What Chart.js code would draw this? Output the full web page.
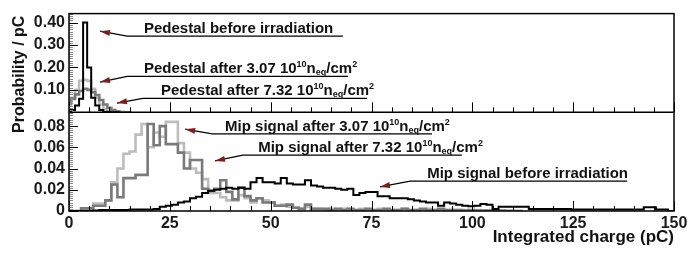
<!DOCTYPE html>
<html>
<head>
<meta charset="utf-8">
<script src="https://cdn.jsdelivr.net/npm/chart.js@4.4.1/dist/chart.umd.min.js"></script>
<style>
  html, body { margin: 0; padding: 0; background: #fff; }
  canvas { display: block; }
</style>
</head>
<body>
<canvas id="chart" width="691" height="254"></canvas>
<script>
// BINNING (pC)
const pedStart = -0.5;   // pedestal bins are centred on whole pC
const pedWidth = 1;
const mipStart = 0;
const mipWidth = 1.5;

// PEDESTAL PAD - probability / pC per bin
const pedBefore = [0, 0.003, 0.01, 0.03, 0.06, 0.40, 0.20, 0.065, 0.03, 0.01, 0.003, 0, 0];
const ped307 = [0.005, 0.03, 0.065, 0.1, 0.14, 0.145, 0.14, 0.105, 0.065, 0.035, 0.015, 0.005, 0.001, 0];
const ped732 = [0.02, 0.04, 0.06, 0.08, 0.095, 0.105, 0.1, 0.09, 0.077, 0.055, 0.035, 0.02, 0.01, 0.004, 0.001, 0];

// MIP PAD - probability / pC per bin
const mipBefore = [
  0, 0, 0, 0, 0, 0.0005, 0.001, 0.001, 0.001, 0.001,
  0.001, 0.0015, 0.0015, 0.0015, 0.0015, 0.002, 0.004, 0.005, 0.006, 0.008,
  0.009, 0.012, 0.0135, 0.017, 0.019, 0.02, 0.021, 0.022, 0.021, 0.022,
  0.021, 0.027, 0.031, 0.027, 0.027, 0.026, 0.031, 0.026, 0.025, 0.025,
  0.029, 0.024, 0.023, 0.022, 0.022, 0.021, 0.02, 0.021, 0.015, 0.017,
  0.018, 0.018, 0.014, 0.014, 0.012, 0.012, 0.012, 0.011, 0.01, 0.009,
  0.008, 0.008, 0.005, 0.008, 0.007, 0.006, 0.005, 0.0045, 0.005, 0.0065,
  0.006, 0.002, 0.004, 0.004, 0.004, 0.004, 0.004, 0.002, 0.002, 0.002,
  0.002, 0.002, 0.002, 0.002, 0.0015, 0.0015, 0.0015, 0.0015, 0.0015, 0.0015,
  0.0015, 0.0015, 0.0015, 0.0015, 0.0015, 0.0015, 0.0035, 0.0035, 0.0015, 0.0015
];
const mip307 = [
  0, 0, 0, 0.002, 0.002, 0.007, 0.007, 0.01, 0.027, 0.04,
  0.054, 0.056, 0.072, 0.082, 0.06, 0.074, 0.07, 0.084, 0.084, 0.064,
  0.055, 0.04, 0.036, 0.03, 0.017, 0.017, 0.013, 0.01, 0.01, 0.015,
  0.012, 0.008, 0.012, 0.01, 0.008, 0.005, 0.006, 0.004, 0.003, 0.002,
  0.004, 0.002, 0.002, 0.001, 0.002, 0.001, 0.002, 0.001, 0.001, 0.002,
  0.001, 0.001, 0.002, 0.001, 0.001, 0.001, 0.002, 0.001, 0.001, 0.001,
  0.002, 0.001, 0.001, 0.001, 0.001, 0.001, 0.001, 0.0005, 0.001, 0.0005,
  0.0005, 0.0005, 0, 0.0005, 0
];
const mip732 = [
  0, 0, 0, 0.0025, 0.0025, 0.005, 0.005, 0.01, 0.025, 0.013,
  0.031, 0.031, 0.034, 0.034, 0.082, 0.062, 0.08, 0.063, 0.063, 0.055,
  0.04, 0.048, 0.048, 0.021, 0.019, 0.021, 0.029, 0.018, 0.011, 0.022,
  0.014, 0.01, 0.012, 0.008, 0.008, 0.005, 0.005, 0.006, 0.003, 0.002,
  0.006, 0.002, 0.002, 0.002, 0.001, 0.002, 0.001, 0.002, 0.001, 0.001,
  0.002, 0.001, 0.001, 0.002, 0.001, 0.001, 0.002, 0.001, 0.001, 0.002,
  0.001, 0.001, 0.002, 0.001, 0.001, 0.001, 0.0005, 0.001, 0.0005, 0.0005,
  0.0005, 0, 0.0005, 0, 0
];

// AXES
const xTicks = [0, 25, 50, 75, 100, 125, 150];
const pedTickLabels = [0.1, 0.2, 0.3, 0.4];
const mipTickLabels = [0, 0.02, 0.04, 0.06, 0.08];

// LABELS WITH ARROWS (tip, elbow and end of underline in data units of the pad)
const notes = [
  { pad: "yTop", text: "Pedestal before irradiation", tip: [7.7, 0.3615], elbow: [14.4, 0.34], end: 67.9, textX: 18.6 },
  { pad: "yTop", text: "Pedestal after 3.07 10^{10}n_{eq}/cm^{2}", tip: [7.7, 0.135], elbow: [14.4, 0.16], end: 69.2, textX: 18.6 },
  { pad: "yTop", text: "Pedestal after 7.32 10^{10}n_{eq}/cm^{2}", tip: [11.9, 0.041], elbow: [18.3, 0.062], end: 73.9, textX: 22.8 },
  { pad: "yBot", text: "Mip signal after 3.07 10^{10}n_{eq}/cm^{2}", tip: [28.8, 0.0771], elbow: [35.5, 0.0726], end: 90.0, textX: 38.7 },
  { pad: "yBot", text: "Mip signal after 7.32 10^{10}n_{eq}/cm^{2}", tip: [36.2, 0.0472], elbow: [43.1, 0.0526], end: 97.4, textX: 46.9 },
  { pad: "yBot", text: "Mip signal before irradiation", tip: [77.1, 0.0227], elbow: [84.6, 0.0281], end: 138.4, textX: 88.8 }
];

const family = "'Liberation Sans', Arial, Helvetica, sans-serif";
Chart.defaults.font.family = family;

function histPoints(values, start, width) {
    const pts = [{ x: start, y: 0 }];
    values.forEach((v, i) => pts.push({ x: start + i * width, y: v }));
    pts.push({ x: start + values.length * width, y: 0 });
    return pts;
}

function hist(values, start, width, axis, color, lw, order) {
    return {
        data: histPoints(values, start, width),
        yAxisID: axis,
        borderColor: color,
        borderWidth: lw,
        stepped: "after",
        pointRadius: 0,
        fill: false,
        order: order
    };
}

// split "a^{b}c_{d}" into pieces
function richParts(str) {
    return str.split(/(\^\{[^}]*\}|_\{[^}]*\})/).filter(s => s).map(s => {
        if (s[0] === "^") return { t: s.slice(2, -1), sup: true };
        if (s[0] === "_") return { t: s.slice(2, -1), sub: true };
        return { t: s };
    });
}

function line(ctx, x1, y1, x2, y2) {
    ctx.beginPath();
    ctx.moveTo(x1, y1);
    ctx.lineTo(x2, y2);
    ctx.stroke();
}

const padDecor = {
    id: "padDecor",
    afterDatasetsDraw(chart) {
        const { ctx, chartArea: a } = chart;
        const x = chart.scales.x;
        const pads = [chart.scales.yTop, chart.scales.yBot];
        ctx.save();

        // x ticks, pointing inwards, on the bottom of each pad
        ctx.lineWidth = 1;
        ctx.strokeStyle = "#000";
        pads.forEach(ys => {
            for (let v = 0; v <= 150; v += 5) {
                const px = Math.round(x.getPixelForValue(v)) + 0.5;
                line(ctx, px, ys.bottom, px, ys.bottom - (v % 25 === 0 ? 10 : 5));
            }
        });

        // y ticks
        const yDefs = [
            { s: chart.scales.yTop, minor: 0.01, every: 10 },
            { s: chart.scales.yBot, minor: 0.002, every: 10 }
        ];
        yDefs.forEach(d => {
            for (let i = 0; i * d.minor <= d.s.max + 1e-9; i++) {
                const py = Math.round(d.s.getPixelForValue(i * d.minor)) + 0.5;
                const major = i % d.every === 0;
                ctx.strokeStyle = major ? "#000" : "#8a8a8a";
                line(ctx, a.left, py, a.left + (major ? 9 : 4), py);
            }
        });

        // frame and pad separator
        ctx.strokeStyle = "#000";
        ctx.lineWidth = 1.5;
        ctx.strokeRect(a.left, a.top, a.right - a.left, a.bottom - a.top);
        line(ctx, a.left, chart.scales.yTop.bottom, a.right, chart.scales.yTop.bottom);

        // labels with arrows
        notes.forEach(n => {
            const ys = chart.scales[n.pad];
            const tx = x.getPixelForValue(n.tip[0]), ty = ys.getPixelForValue(n.tip[1]);
            const ex = x.getPixelForValue(n.elbow[0]), ey = ys.getPixelForValue(n.elbow[1]);
            const endX = x.getPixelForValue(n.end);
            ctx.strokeStyle = "#000";
            ctx.lineWidth = 1.3;
            ctx.beginPath();
            ctx.moveTo(tx, ty);
            ctx.lineTo(ex, ey);
            ctx.lineTo(endX, ey);
            ctx.stroke();

            // arrow head
            const ang = Math.atan2(ty - ey, tx - ex);
            const len = 10, half = 3;
            ctx.fillStyle = "#7d1c1c";
            ctx.beginPath();
            ctx.moveTo(tx, ty);
            ctx.lineTo(tx - len * Math.cos(ang) + half * Math.sin(ang), ty - len * Math.sin(ang) - half * Math.cos(ang));
            ctx.lineTo(tx - len * Math.cos(ang) - half * Math.sin(ang), ty - len * Math.sin(ang) + half * Math.cos(ang));
            ctx.closePath();
            ctx.fill();

            // text
            ctx.fillStyle = "#111";
            ctx.textBaseline = "alphabetic";
            ctx.textAlign = "left";
            let cx = x.getPixelForValue(n.textX);
            const base = ey - 3;
            richParts(n.text).forEach(p => {
                const small = p.sup || p.sub;
                ctx.font = "bold " + (small ? 9 : 15) + "px " + family;
                const dy = p.sup ? -6 : (p.sub ? 2 : 0);
                ctx.fillText(p.t, cx, base + dy);
                cx += ctx.measureText(p.t).width;
            });
        });

        // y axis title
        ctx.translate(20, a.top + 2);
        ctx.rotate(-Math.PI / 2);
        ctx.font = "bold 16px " + family;
        ctx.fillStyle = "#111";
        ctx.textAlign = "right";
        ctx.textBaseline = "middle";
        ctx.fillText("Probability / pC", 0, 0);

        ctx.restore();
    }
};

const tickFont = { size: 16, weight: "bold" };

new Chart(document.getElementById("chart").getContext("2d"), {
    type: "line",
    data: {
        datasets: [
            hist(pedBefore, pedStart, pedWidth, "yTop", "#000", 2, 0),
            hist(ped732, pedStart, pedWidth, "yTop", "#7a7a7a", 2.6, 1),
            hist(ped307, pedStart, pedWidth, "yTop", "#bdbdbd", 2.6, 2),
            hist(mipBefore, mipStart, mipWidth, "yBot", "#000", 2, 0),
            hist(mip732, mipStart, mipWidth, "yBot", "#7a7a7a", 2.6, 1),
            hist(mip307, mipStart, mipWidth, "yBot", "#bdbdbd", 2.6, 2)
        ]
    },
    options: {
        responsive: false,
        animation: false,
        layout: { padding: { left: 0, right: 17, top: 6, bottom: 0 } },
        plugins: {
            legend: { display: false },
            tooltip: { enabled: false }
        },
        scales: {
            x: {
                type: "linear",
                min: 0,
                max: 150,
                grid: { display: false, drawTicks: false },
                border: { display: false },
                afterBuildTicks: s => { s.ticks = xTicks.map(v => ({ value: v })); },
                ticks: {
                    autoSkip: false,
                    maxRotation: 0,
                    padding: 3,
                    color: "#1a1a1a",
                    font: tickFont,
                    callback: v => String(v)
                },
                title: {
                    display: true,
                    text: "Integrated charge (pC)",
                    align: "end",
                    color: "#111",
                    font: { size: 17, weight: "bold" },
                    padding: { top: 0, bottom: 6 }
                },
                afterFit: s => { s.height = 43; }
            },
            yBot: {
                type: "linear",
                position: "left",
                stack: "pads",
                stackWeight: 1,
                weight: 1,
                min: 0,
                max: 0.093,
                grid: { display: false, drawTicks: false },
                border: { display: false },
                afterBuildTicks: s => { s.ticks = mipTickLabels.map(v => ({ value: v })); },
                ticks: {
                    autoSkip: false,
                    padding: 4,
                    color: "#1a1a1a",
                    font: tickFont,
                    callback: v => v === 0 ? "0" : v.toFixed(2)
                },
                afterFit: s => { s.width = 69; }
            },
            yTop: {
                type: "linear",
                position: "left",
                stack: "pads",
                stackWeight: 1,
                weight: 2,
                min: 0,
                max: 0.44,
                grid: { display: false, drawTicks: false },
                border: { display: false },
                afterBuildTicks: s => { s.ticks = pedTickLabels.map(v => ({ value: v })); },
                ticks: {
                    autoSkip: false,
                    padding: 4,
                    color: "#1a1a1a",
                    font: tickFont,
                    callback: v => v.toFixed(2)
                },
                afterFit: s => { s.width = 69; }
            }
        }
    },
    plugins: [padDecor]
});
</script>
</body>
</html>
